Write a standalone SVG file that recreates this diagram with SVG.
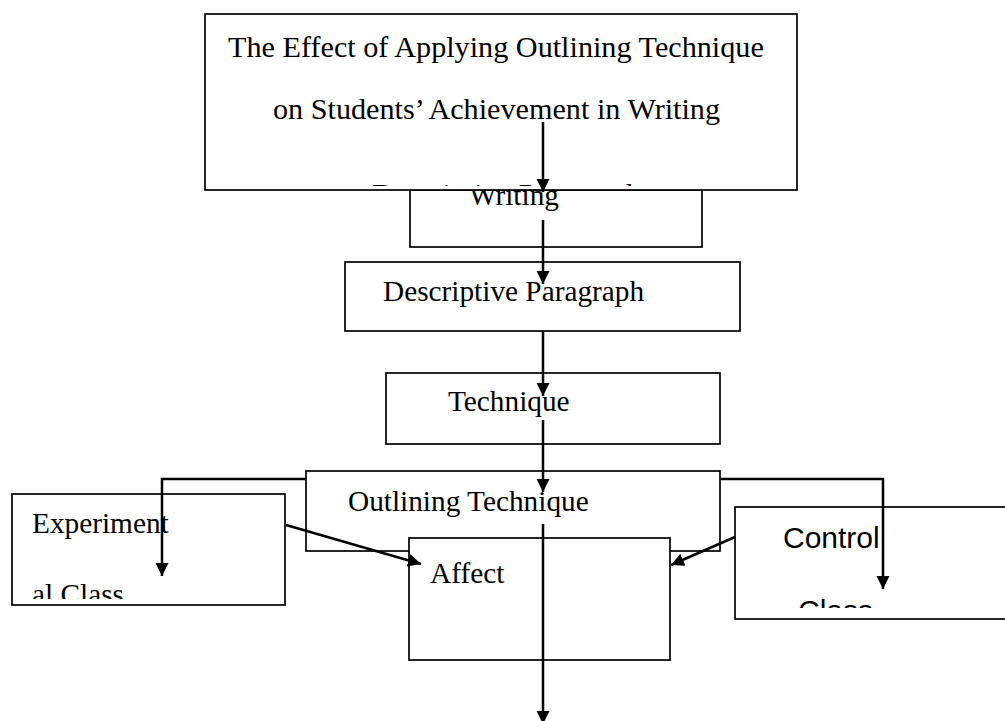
<svg xmlns="http://www.w3.org/2000/svg" width="1005" height="721" viewBox="0 0 1005 721">
<style>
.box{fill:#fff;stroke:#000;stroke-width:1.7}
.t{font-family:"Liberation Serif","Times New Roman",serif;font-size:29.3px;fill:#000}
.tt{font-family:"Liberation Serif","Times New Roman",serif;font-size:30.2px;fill:#000}
.s{font-family:"Liberation Sans",Arial,sans-serif;font-size:30px;fill:#000}
.c{fill:none;stroke:#000;stroke-width:2.5}
</style>
<defs>
<marker id="ah" markerUnits="userSpaceOnUse" markerWidth="14" markerHeight="14" refX="13" refY="7" orient="auto">
<path d="M0,0.5 L13,7 L0,13.5 z" fill="#000"/>
</marker>
<clipPath id="cTop"><rect x="205" y="14" width="592" height="172"/></clipPath>
<clipPath id="cExp"><rect x="12" y="494" width="273" height="105"/></clipPath>
<clipPath id="cCtl"><rect x="735" y="507" width="270" height="101"/></clipPath>
</defs>
<rect width="1005" height="721" fill="#fff"/>
<g id="writing">
<rect class="box" x="410" y="190" width="292" height="57"/>
<text class="t" x="469" y="205">Writing</text>
</g>
<g id="title">
<rect class="box" x="205" y="14" width="592" height="176"/>
<g clip-path="url(#cTop)">
<text class="tt" x="228" y="57">The Effect of Applying Outlining Technique</text>
<text class="tt" x="273" y="119">on Students’ Achievement in Writing</text>
<text class="tt" x="372" y="204">Descriptive Paragraph</text>
</g>
</g>
<g id="descriptive">
<rect class="box" x="345" y="262" width="395" height="69"/>
<text class="t" x="383" y="301">Descriptive Paragraph</text>
</g>
<g id="technique">
<rect class="box" x="386" y="373" width="334" height="71"/>
<text class="t" x="448" y="411">Technique</text>
</g>
<g id="outlining">
<rect class="box" x="306" y="471" width="414" height="80"/>
<text class="t" x="348" y="511">Outlining Technique</text>
</g>
<g id="affect">
<rect class="box" x="409" y="538" width="261" height="122"/>
<text class="t" x="430" y="583">Affect</text>
</g>
<g id="experimental">
<rect class="box" x="12" y="494" width="273" height="111"/>
<g clip-path="url(#cExp)">
<text class="t" x="32" y="533">Experiment</text>
<text class="t" x="32" y="604">al Class</text>
</g>
</g>
<g id="control">
<rect class="box" x="735" y="507" width="280" height="112"/>
<g clip-path="url(#cCtl)">
<text class="s" x="783" y="548">Control</text>
<text class="s" x="798" y="621">Class</text>
</g>
</g>
<g id="connectors">
<path class="c" d="M543,122 V192" marker-end="url(#ah)"/>
<path class="c" d="M543,220 V284" marker-end="url(#ah)"/>
<path class="c" d="M543,331 V396" marker-end="url(#ah)"/>
<path class="c" d="M543,420 V492" marker-end="url(#ah)"/>
<path class="c" d="M543,524 V724" marker-end="url(#ah)"/>
<path class="c" d="M306,479 H162 V576" marker-end="url(#ah)"/>
<path class="c" d="M720,479 H883 V589" marker-end="url(#ah)"/>
<path class="c" d="M286,525 L421,564" marker-end="url(#ah)"/>
<path class="c" d="M735,537 L671,565" marker-end="url(#ah)"/>
</g>
</svg>
